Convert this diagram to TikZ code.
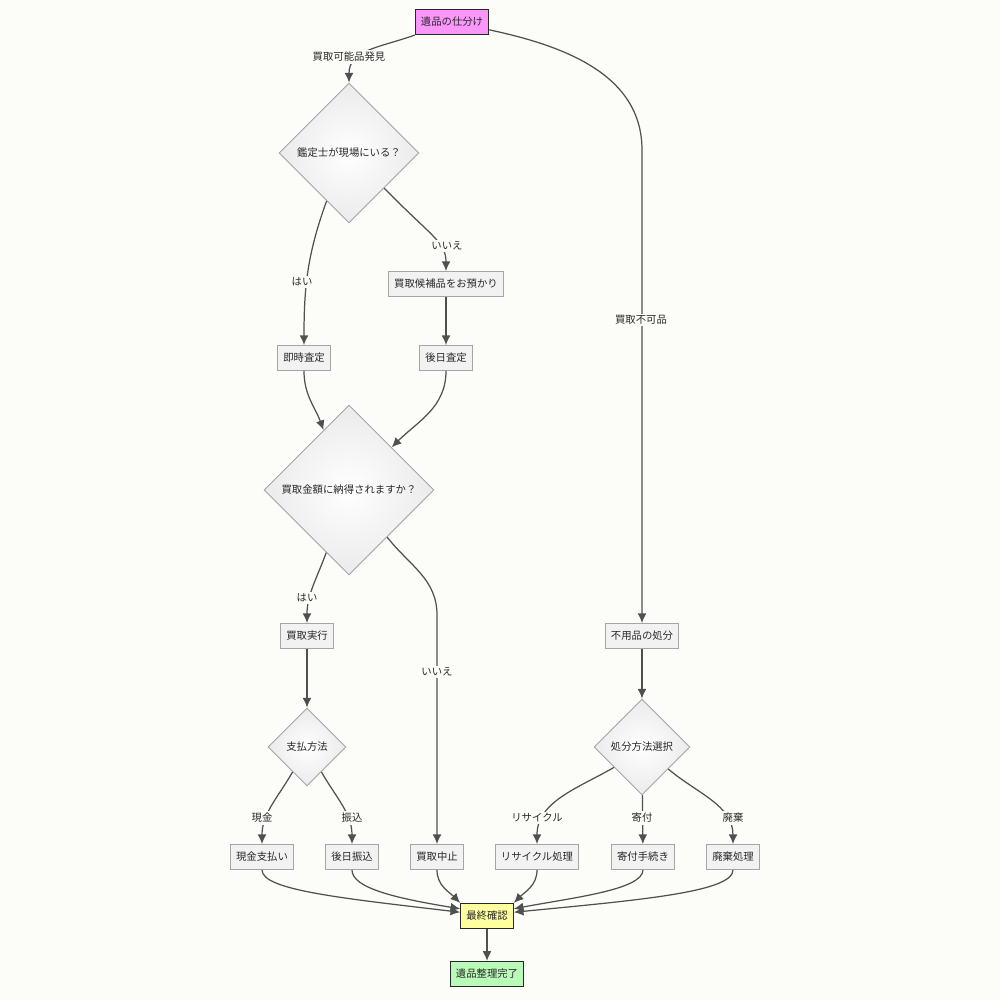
\documentclass[tikz,border=0pt]{standalone}
\usepackage{fontspec}
\setmainfont{Noto Sans CJK JP}
\usetikzlibrary{shapes.geometric,arrows.meta}
\definecolor{bgcol}{RGB}{252,252,249}
\definecolor{boxfill}{RGB}{242,242,242}
\definecolor{boxline}{RGB}{165,165,165}
\definecolor{linecol}{RGB}{80,80,80}
\definecolor{txt}{RGB}{40,40,40}
\definecolor{pinkfill}{RGB}{250,150,250}
\definecolor{yellowfill}{RGB}{255,255,160}
\definecolor{greenfill}{RGB}{185,250,185}
\tikzset{>={Latex[length=5.5pt,width=5pt]}}
\tikzset{
  box/.style={rectangle, draw=boxline, fill=boxfill, line width=0.5pt, minimum height=0.5cm,
    inner xsep=0.11cm, inner ysep=0pt, text=txt, font=\fontsize{5.9}{7}\selectfont},
  startbox/.style={box, draw=txt, fill=pinkfill, line width=0.7pt},
  checkbox/.style={box, draw=txt, fill=yellowfill, line width=0.7pt},
  endbox/.style={box, draw=txt, fill=greenfill, line width=0.7pt},
  decide/.style={diamond, aspect=1, draw=boxline, line width=0.5pt, inner sep=0pt,
    shading=radial, inner color=white, outer color=gray!16, text=txt,
    font=\fontsize{5.9}{7}\selectfont},
  tag/.style={fill=bgcol, inner sep=1pt, text=txt, font=\fontsize{5.9}{7}\selectfont},
  flow/.style={draw=linecol, line width=0.7pt}
}
\begin{document}
\begin{tikzpicture}[x=0.02cm,y=-0.02cm]
\fill[bgcol] (0,0) rectangle (1000,1000);
\node[startbox] (s) at (452,22) {遺品の仕分け};
\node[decide, minimum width=2.8cm, minimum height=2.8cm] (d1) at (349,153) {鑑定士が現場にいる？};
\node[box] (b1) at (446,284) {買取候補品をお預かり};
\node[box] (a1) at (304,358) {即時査定};
\node[box] (a2) at (446,358) {後日査定};
\node[decide, minimum width=3.4cm, minimum height=3.4cm] (d2) at (349,490) {買取金額に納得されますか？};
\node[box] (p1) at (307,636) {買取実行};
\node[box] (u) at (642,636) {不用品の処分};
\node[decide, minimum width=1.56cm, minimum height=1.56cm] (d4) at (307,747) {支払方法};
\node[decide, minimum width=1.92cm, minimum height=1.92cm] (d3) at (642,747) {処分方法選択};
\node[box] (m1) at (262,857) {現金支払い};
\node[box] (m2) at (352,857) {後日振込};
\node[box] (x1) at (437,857) {買取中止};
\node[box] (r1) at (537,857) {リサイクル処理};
\node[box] (r2) at (643,857) {寄付手続き};
\node[box] (r3) at (733,857) {廃棄処理};
\node[checkbox] (f) at (487,916) {最終確認};
\node[endbox] (e) at (487,974) {遺品整理完了};
\draw[flow,->] (s.south west) .. controls (378,48) and (349,50) .. (d1.north);
\draw[flow,->] ([yshift=3pt]s.south east) to[out=-12,in=90] (642,150) -- (u.north);
\draw[flow,->] (d1.245) to[out=250,in=90] (a1.north);
\draw[flow,->] (d1.south east) .. controls (432,237) and (446,242) .. (b1.north);
\draw[flow,->] (b1) -- (a2);
\draw[flow,->] (a1.south) to[out=-90,in=110] (d2.113);
\draw[flow,->] (a2.south) to[out=-90,in=45] (d2.north east);
\draw[flow,->] (d2.250) to[out=250,in=90] (p1.north);
\draw[flow,->] (d2.309) to[out=-52,in=90] (437,615) -- (x1.north);
\draw[flow,->] (p1) -- (d4);
\draw[flow,->] (u) -- (d3);
\draw[flow,->] (d4.240) to[out=240,in=90] (m1.north);
\draw[flow,->] (d4.300) to[out=-60,in=90] (m2.north);
\draw[flow,->] (d3.216) to[out=210,in=90] (r1.north);
\draw[flow,->] (d3) -- (r2);
\draw[flow,->] (d3.320) to[out=-40,in=90] (r3.north);
\draw[flow,->] (m1.south) .. controls (262,890) and (340,898) .. (f.172);
\draw[flow,->] (m2.south) .. controls (352,888) and (395,898) .. (f.165);
\draw[flow,->] (x1.south) to[out=-90,in=135] (f.north west);
\draw[flow,->] (r1.south) to[out=-90,in=45] (f.north east);
\draw[flow,->] (r2.south) .. controls (643,890) and (570,898) .. (f.15);
\draw[flow,->] (r3.south) .. controls (733,892) and (640,900) .. (f.8);
\draw[flow,->] (f) -- (e);
\node[tag] (l1) at (349,57) {買取可能品発見};
\node[tag] (l2) at (641,320) {買取不可品};
\node[tag] (l3) at (302,282) {はい};
\node[tag] (l4) at (447,246) {いいえ};
\node[tag] (l5) at (307,598) {はい};
\node[tag] (l6) at (437,672) {いいえ};
\node[tag] (l7) at (262,818) {現金};
\node[tag] (l8) at (352,818) {振込};
\node[tag] (l9) at (537,818) {リサイクル};
\node[tag] (l10) at (642,818) {寄付};
\node[tag] (l11) at (733,818) {廃棄};
\end{tikzpicture}
\end{document}
